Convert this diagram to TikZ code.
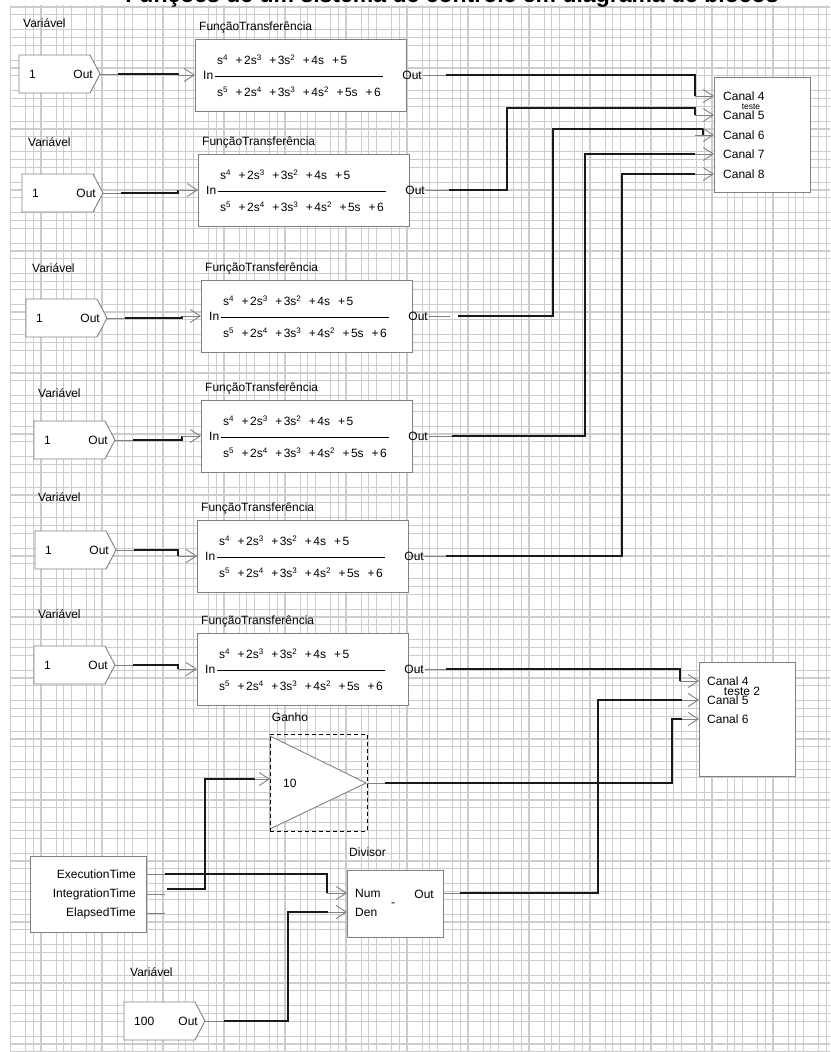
\documentclass[tikz,border=0pt]{standalone}
\usepackage{fontspec}
\setmainfont{Liberation Sans}
\usetikzlibrary{arrows.meta,calc}
\definecolor{gridc}{RGB}{204,204,204}
\definecolor{edgec}{RGB}{128,128,128}
\definecolor{wirec}{RGB}{25,25,25}
\newcommand{\mysup}[1]{\raisebox{3.6pt}{\fontsize{8}{8}\selectfont #1}}
\newcommand{\pl}{\hspace{8pt}+\hspace{1.5pt}}
\newcommand{\numtext}{s\mysup{4}\pl2s\mysup{3}\pl3s\mysup{2}\pl4s\pl5}
\newcommand{\dentext}{s\mysup{5}\pl2s\mysup{4}\pl3s\mysup{3}\pl4s\mysup{2}\pl5s\pl6}
\tikzset{
  lbl/.style={font=\fontsize{12}{14}\selectfont, inner sep=0pt, text=black},
  blk/.style={draw=edgec, fill=white, line width=0.9pt},
  wire/.style={draw=wirec, line width=2.8pt},
  stub/.style={draw=edgec, line width=0.9pt},
  arr/.style={stub, -{Straight Barb[length=10pt,width=13pt,line width=0.9pt]}},
  gridline/.style={draw=gridc, line width=1.1pt},
}
% variable block: name, left, top, value
\newcommand{\varblk}[4]{%
  \draw[blk] (#2,#3) -- ++(71,0) -- ++(10,19) -- ++(-10,19) -- ++(-71,0) -- cycle;
  \coordinate (#1) at (#2+81,#3+19);
  \node[lbl,anchor=west] (#1val) at (#2+10,#3+19) {#4};
  \node[lbl,anchor=east] (#1o) at (#2+74,#3+19) {Out};
}
% transfer function block: name, left, top
\newcommand{\tfblk}[3]{%
  \node[blk, minimum width=211pt, minimum height=72pt, anchor=north west, inner sep=0pt] (#1) at (#2,#3) {};
  \node[lbl, anchor=west] (#1lab) at (#2+4,#3-12) {FunçãoTransferência};
  \node[lbl, anchor=west] (#1inl) at (#2+8,#3+36) {In};
  \draw[line width=0.9pt, black] (#2+20,#3+37) -- (#2+188,#3+37);
  \node[lbl, anchor=west] (#1num) at (#2+22,#3+21) {\numtext};
  \node[lbl, anchor=west] (#1den) at (#2+22,#3+53) {\dentext};
  \node[lbl, anchor=east] (#1outl) at (#2+227,#3+36) {Out};
  \coordinate (#1in) at (#2,#3+36);
  \coordinate (#1out) at (#2+228,#3+36);
}
\begin{document}
\begin{tikzpicture}[x=1pt,y=-1pt]
\useasboundingbox (0,0) rectangle (830,1052);
\fill[white] (0,0) rectangle (830,1052);
% grid
\begin{scope}
  \clip (0,0) rectangle (830,1052);
  \foreach \k in {0,...,26} {\foreach \o in {0,15.25,22.875} {
    \draw[gridline] ({10.5+30.5*\k+\o},5) -- ({10.5+30.5*\k+\o},1052);}}
  \foreach \k in {0,...,34} {\foreach \o in {0,7.625,22.875} {
    \draw[gridline] (10,{7+30.5*\k+\o}) -- (830,{7+30.5*\k+\o});}}
\end{scope}
% clipped title
\begin{scope}
  \clip (0,0) rectangle (830,14);
  \node[font=\fontsize{23}{26}\selectfont\bfseries, anchor=base, inner sep=0pt] (title) at (452,2) {Funções de um sistema de controle em diagrama de blocos};
\end{scope}

% rows
\node[lbl,anchor=west] (lv1) at (23,23) {Variável};
\varblk{v1}{19}{55}{1}
\tfblk{tf1}{195}{39}
\node[lbl,anchor=west] (lv2) at (28,142) {Variável};
\varblk{v2}{22}{174}{1}
\tfblk{tf2}{198}{154}
\node[lbl,anchor=west] (lv3) at (32,268) {Variável};
\varblk{v3}{26}{299}{1}
\tfblk{tf3}{201}{280}
\node[lbl,anchor=west] (lv4) at (38,393) {Variável};
\varblk{v4}{34}{421}{1}
\tfblk{tf4}{201}{400}
\node[lbl,anchor=west] (lv5) at (38,497) {Variável};
\varblk{v5}{35}{531}{1}
\tfblk{tf5}{197}{520}
\node[lbl,anchor=west] (lv6) at (38,614) {Variável};
\varblk{v6}{34}{646}{1}
\tfblk{tf6}{197}{633}
\node[lbl,anchor=west] (lv7) at (130,972) {Variável};
\varblk{v100}{124}{1002}{100}

% scope 1
\node[blk, minimum width=96pt, minimum height=115pt, anchor=north west, inner sep=0pt] (sc1) at (714,77) {};
\node[lbl,anchor=west] (sc1l4) at (723,96) {Canal 4};
\node[lbl,anchor=west] (sc1l5) at (723,115) {Canal 5};
\node[lbl,anchor=west] (sc1l6) at (723,135) {Canal 6};
\node[lbl,anchor=west] (sc1l7) at (723,154) {Canal 7};
\node[lbl,anchor=west] (sc1l8) at (723,174) {Canal 8};
\node[lbl,font=\fontsize{8.5}{9}\selectfont] (sc1t) at (751,107) {teste};
\coordinate (s1c4) at (714,96);
\coordinate (s1c5) at (714,115);
\coordinate (s1c6) at (714,135);
\coordinate (s1c7) at (714,154);
\coordinate (s1c8) at (714,174);

% scope 2
\node[blk, minimum width=96pt, minimum height=114pt, anchor=north west, inner sep=0pt] (sc2) at (699,662) {};
\node[lbl,anchor=west] (sc2l4) at (707,681) {Canal 4};
\node[lbl,anchor=west] (sc2l5) at (707,700) {Canal 5};
\node[lbl,anchor=west] (sc2l6) at (707,719) {Canal 6};
\node[lbl] (sc2t) at (742,691) {teste 2};
\coordinate (s2c4) at (699,681);
\coordinate (s2c5) at (699,700);
\coordinate (s2c6) at (699,719);

% gain
\node[lbl] (glab) at (290,717) {Ganho};
\draw[edgec, line width=0.9pt, fill=white] (270,736) -- (366,783) -- (270,829) -- cycle;
\node[draw=black, line width=0.9pt, dash pattern=on 4pt off 3pt, minimum width=97pt, minimum height=97pt, anchor=north west, inner sep=0pt] (gain) at (270,734) {};
\node[lbl,anchor=west] (gval) at (283,783) {10};
\coordinate (gin) at (270,779);
\coordinate (gout) at (367,783);

% time block
\node[blk, minimum width=116pt, minimum height=76pt, anchor=north west, inner sep=0pt] (tb) at (30,856) {};
\node[lbl,anchor=east] (tbl1) at (136,874) {ExecutionTime};
\node[lbl,anchor=east] (tbl2) at (136,894) {IntegrationTime};
\node[lbl,anchor=east] (tbl3) at (136,913) {ElapsedTime};
\coordinate (texec) at (146,874);
\coordinate (tinteg) at (146,894);
\coordinate (telap) at (146,913);

% divisor
\node[lbl,anchor=west] (dlab) at (349,852) {Divisor};
\node[blk, minimum width=96pt, minimum height=67pt, anchor=north west, inner sep=0pt] (div) at (347,870) {};
\node[lbl,anchor=west] (dnuml) at (355,893) {Num};
\node[lbl,anchor=west] (ddenl) at (355,912) {Den};
\node[lbl] (dminus) at (393,905) {-};
\node[lbl,anchor=east] (doutl) at (434,894) {Out};
\coordinate (dnum) at (347,893);
\coordinate (dden) at (347,912);
\coordinate (dout) at (443,893);

% variable -> transfer function connectors
\draw[stub] (v1) -- (118,74);
\draw[wire] (118,74) -- (178,74) -- (178,75);
\draw[arr] (178,75) -- (tf1in);
\draw[stub] (v2) -- (121,193);
\draw[wire] (121,193) -- (178,193) -- (178,190);
\draw[arr] (178,190) -- (tf2in);
\draw[stub] (v3) -- (125,318);
\draw[wire] (125,318) -- (182,318) -- (182,316);
\draw[arr] (182,316) -- (tf3in);
\draw[stub] (v4) -- (133,440);
\draw[wire] (133,440) -- (182,440) -- (182,436);
\draw[arr] (182,436) -- (tf4in);
\draw[stub] (v5) -- (134,550);
\draw[wire] (134,550) -- (178,550) -- (178,556);
\draw[arr] (178,556) -- (tf5in);
\draw[stub] (v6) -- (133,665);
\draw[wire] (133,665) -- (178,665) -- (178,669);
\draw[arr] (178,669) -- (tf6in);

% transfer functions -> scope 1
\draw[stub] (tf1out) -- (446,75);
\draw[wire] (446,75) -- (695,75) -- (695,96);
\draw[arr] (695,96) -- (s1c4);
\draw[stub] (tf2out) -- (449,190);
\draw[wire] (449,190) -- (507,190) -- (507,108) -- (695,108) -- (695,115);
\draw[arr] (695,115) -- (s1c5);
\draw[stub] (tf3out) -- (450,316);
\draw[wire] (458,316) -- (553,316) -- (553,129) -- (703,129) -- (703,135);
\draw[arr] (695,135) -- (s1c6);
\draw[stub] (tf4out) -- (452,436);
\draw[wire] (452,436) -- (585,436) -- (585,154) -- (695,154);
\draw[arr] (695,154) -- (s1c7);
\draw[stub] (tf5out) -- (446,556);
\draw[wire] (446,556) -- (622,556) -- (622,174) -- (695,174);
\draw[arr] (695,174) -- (s1c8);

% scope 2 inputs
\draw[stub] (tf6out) -- (446,669);
\draw[wire] (446,669) -- (680,669) -- (680,681);
\draw[arr] (680,681) -- (s2c4);
\draw[stub] (dout) -- (460,893);
\draw[wire] (460,893) -- (598,893) -- (598,700) -- (682,700);
\draw[arr] (682,700) -- (s2c5);
\draw[stub] (gout) -- (385,783);
\draw[wire] (385,783) -- (672,783) -- (672,719) -- (682,719);
\draw[arr] (682,719) -- (s2c6);

% time block outputs
\draw[stub] (texec) -- (165,874);
\draw[wire] (165,874) -- (327,874) -- (327,893);
\draw[arr] (327,893) -- (dnum);
\draw[stub] (tinteg) -- (165,894);
\draw[wire] (167,889) -- (205,889) -- (205,779) -- (255,779);
\draw[arr] (255,779) -- (gin);
\draw[stub] (telap) -- (165,913);
\draw[stub] (v100) -- (224,1021);
\draw[wire] (224,1021) -- (288,1021) -- (288,912) -- (328,912);
\draw[arr] (328,912) -- (dden);
\end{tikzpicture}
\end{document}
